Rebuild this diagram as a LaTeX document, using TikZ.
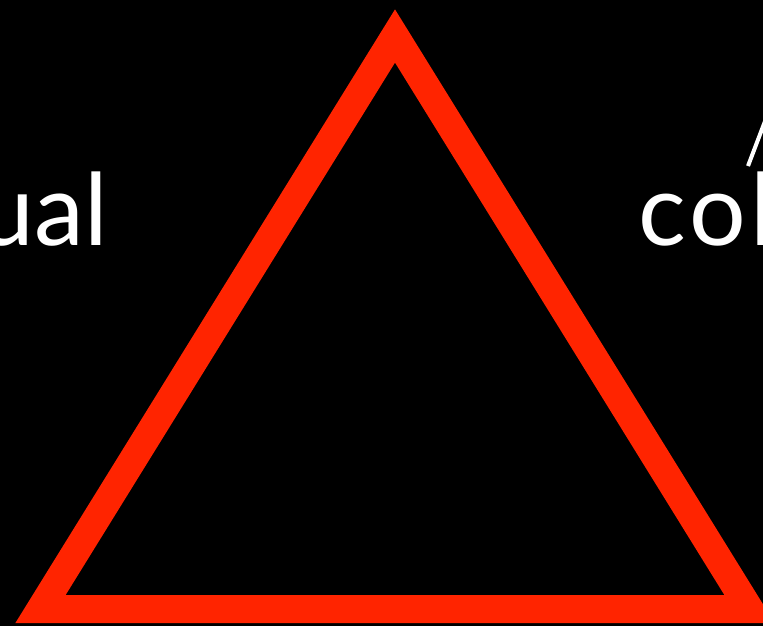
\documentclass[tikz,border=0pt]{standalone}
\usepackage{fontspec}
\setmainfont{Lato}
\definecolor{tri}{RGB}{255,36,0}
\tikzset{
  bigtext/.style={text=white, inner sep=0pt, font=\fontsize{75pt}{90pt}\selectfont},
  tristroke/.style={draw=tri, line width=21pt, line join=miter, miter limit=10},
}
\begin{document}
\begin{tikzpicture}[x=0.75pt,y=-0.75pt]
\useasboundingbox (0,0) rectangle (763,626);
\fill[black] (0,0) rectangle (763,626);
\clip (0,0) rectangle (763,626);
\coordinate (A) at (395,36);
\coordinate (B) at (40.5,609);
\coordinate (C) at (749.5,609);
\draw[tristroke] (A) -- (B) -- (C) -- cycle;
\node[bigtext, anchor=base east] (left) at (108,245) {ual};
\node[bigtext, anchor=base west] (right) at (638,245) {\addfontfeature{LetterSpace=4.5}col};
\coordinate (s1) at (748,166);
\coordinate (s2) at (767,116);
\draw[white, line width=3pt] (s1) -- (s2);
\end{tikzpicture}
\end{document}
